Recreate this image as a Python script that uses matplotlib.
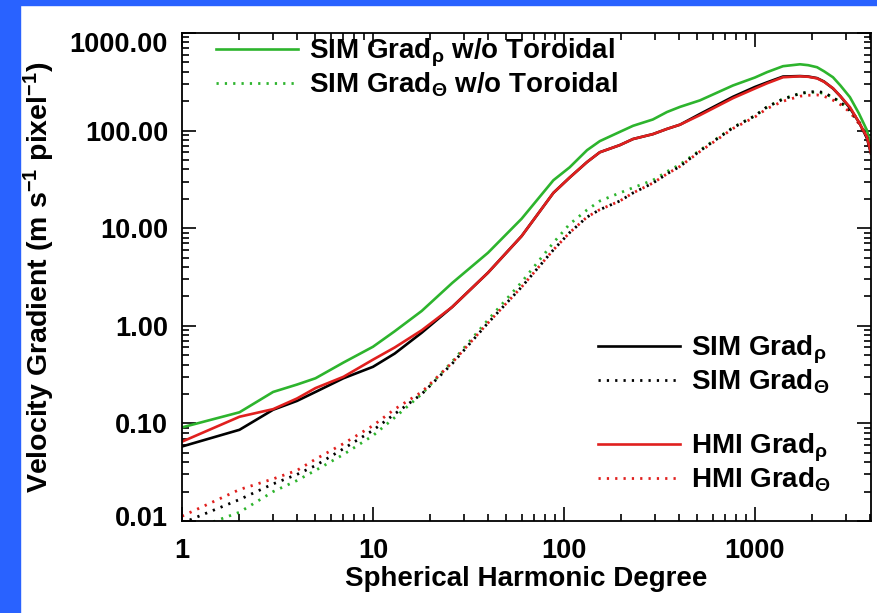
import numpy as np
import matplotlib
matplotlib.use("Agg")
import matplotlib.pyplot as plt
from matplotlib.lines import Line2D
from matplotlib.patches import Rectangle
from matplotlib.ticker import FixedLocator, FormatStrFormatter
from matplotlib.transforms import ScaledTranslation

plt.rcParams['font.family'] = ['Liberation Sans', 'DejaVu Sans']
plt.rcParams['font.weight'] = 'bold'
plt.rcParams['mathtext.fontset'] = 'custom'
plt.rcParams['mathtext.rm'] = 'Liberation Sans'
plt.rcParams['mathtext.it'] = 'Liberation Sans'
plt.rcParams['mathtext.bf'] = 'Liberation Sans:bold'

# spherical harmonic degree
degree = [1, 2, 3, 4, 5, 7, 10, 13, 18, 26, 40, 60, 88, 107, 132, 154, 196, 230,
          292, 346, 405, 515, 767, 1000, 1156, 1402, 1721, 1900, 2113, 2300, 2561,
          2800, 3141, 3500, 3855, 4050]

sim_rho_notor = [0.091, 0.13, 0.21, 0.25, 0.29, 0.42, 0.61, 0.88, 1.42, 2.75, 5.6, 12.5,
                 31, 42, 63, 78, 97, 112, 130, 155, 175, 204, 290, 350, 397, 457, 478,
                 468, 446, 405, 352, 290, 220, 150, 101, 68]
sim_theta_notor = [0.0075, 0.0123, 0.020, 0.026, 0.033, 0.048, 0.075, 0.115, 0.20, 0.43,
                   1.15, 2.8, 7.1, 11, 15.4, 19, 23, 26, 31, 38, 45, 63, 108, 142, 174,
                   212, 240, 246, 248, 240, 220, 195, 165, 125, 90, 66]
sim_rho = [0.058, 0.086, 0.138, 0.17, 0.21, 0.29, 0.38, 0.52, 0.85, 1.56, 3.5, 8.3,
           23, 33, 47.6, 60, 71, 82, 92, 104, 115, 148, 222, 280, 312, 358, 362, 358,
           345, 318, 270, 225, 170, 122, 84, 58]
sim_theta = [0.0095, 0.0166, 0.024, 0.030, 0.037, 0.055, 0.085, 0.125, 0.20, 0.41, 1.07,
             2.5, 6.0, 9, 13, 15.5, 19, 23, 29, 36, 43, 62, 107, 142, 175, 210, 240,
             248, 252, 245, 218, 195, 160, 120, 85, 60]
hmi_rho = [0.065, 0.117, 0.14, 0.18, 0.23, 0.30, 0.45, 0.60, 0.90, 1.56, 3.5, 8.3,
           23, 33, 47.6, 60, 71, 82, 92, 104, 115, 144, 215, 270, 305, 352, 360, 356,
           343, 316, 272, 225, 174, 122, 86, 59]
hmi_theta = [0.0112, 0.021, 0.027, 0.033, 0.043, 0.062, 0.095, 0.14, 0.21, 0.42, 1.07,
             2.5, 6.0, 9, 13, 15.5, 19, 23, 29, 36, 43, 61, 105, 138, 168, 200, 225,
             230, 232, 225, 205, 185, 155, 118, 85, 60]

green = '#2db42d'
red = '#e0201e'
dots = (0, (0.8, 2.2))

fig = plt.figure(figsize=(8.77, 6.13), dpi=100)
fig.patches.append(Rectangle((0, 0), 20 / 877, 1, transform=fig.transFigure,
                             color='#2962ff', zorder=0))
fig.patches.append(Rectangle((0, 1 - 5 / 613), 1, 5 / 613, transform=fig.transFigure,
                             color='#2962ff', zorder=0))
ax = fig.add_axes([182 / 877, 1 - 521 / 613, 689 / 877, 488 / 613])

ax.loglog(degree, sim_rho_notor, color=green, lw=1.9)
ax.loglog(degree, sim_theta_notor, color=green, lw=2.0, ls=dots)
ax.loglog(degree, sim_theta, color='black', lw=2.0, ls=dots)
ax.loglog(degree, hmi_theta, color=red, lw=2.0, ls=dots)
ax.loglog(degree, sim_rho, color='black', lw=1.9)
ax.loglog(degree, hmi_rho, color=red, lw=1.9)

ax.set_xlim(1, 4050)
ax.set_ylim(0.01, 1000)
ax.yaxis.set_major_locator(FixedLocator([0.01, 0.1, 1, 10, 100, 1000]))
ax.yaxis.set_major_formatter(FormatStrFormatter('%.2f'))
ax.xaxis.set_major_locator(FixedLocator([1, 10, 100, 1000]))
ax.xaxis.set_major_formatter(FormatStrFormatter('%d'))
ax.tick_params(which='both', direction='in', top=True, right=True, width=1.2,
               labelsize=19.5, pad=10)
ax.tick_params(axis='x', pad=12)
ax.tick_params(which='major', length=10)
ax.tick_params(which='minor', length=5)
for s in ax.spines.values():
    s.set_linewidth(1.3)

# IDL nudges the end labels inside the axis range
yticks = ax.yaxis.get_major_ticks()
yticks[0].label1.set_transform(yticks[0].label1.get_transform()
                               + ScaledTranslation(0, 5 / 100, fig.dpi_scale_trans))
yticks[-1].label1.set_transform(yticks[-1].label1.get_transform()
                                + ScaledTranslation(0, -9 / 100, fig.dpi_scale_trans))

ax.set_xlabel('Spherical Harmonic Degree', fontsize=20, fontweight='bold', labelpad=2)
ax.set_ylabel('Velocity Gradient (m s$^{-1}$ pixel$^{-1}$)', fontsize=20.5,
              fontweight='bold', labelpad=9)

leg_kw = dict(frameon=False, handlelength=2.95, handletextpad=0.4, labelspacing=0.05,
              borderpad=0, borderaxespad=0, prop={'size': 20, 'weight': 'bold'})

h1 = [Line2D([], [], color=green, lw=1.9), Line2D([], [], color=green, lw=2.0, ls=dots)]
leg1 = ax.legend(h1, ['SIM Grad$_\\rho$ w/o Toroidal', 'SIM Grad$_\\Theta$ w/o Toroidal'],
                 loc='upper left', bbox_to_anchor=(34 / 689, 1 - 4 / 488), **leg_kw)
ax.add_artist(leg1)

h2 = [Line2D([], [], color='black', lw=1.9), Line2D([], [], color='black', lw=2.0, ls=dots)]
leg2 = ax.legend(h2, ['SIM Grad$_\\rho$', 'SIM Grad$_\\Theta$'],
                 loc='upper left', bbox_to_anchor=(416 / 689, 1 - 301 / 488), **leg_kw)
ax.add_artist(leg2)

h3 = [Line2D([], [], color=red, lw=1.9), Line2D([], [], color=red, lw=2.0, ls=dots)]
ax.legend(h3, ['HMI Grad$_\\rho$', 'HMI Grad$_\\Theta$'],
          loc='upper left', bbox_to_anchor=(416 / 689, 1 - 399 / 488), **leg_kw)

fig.savefig('out.png', dpi=100)
